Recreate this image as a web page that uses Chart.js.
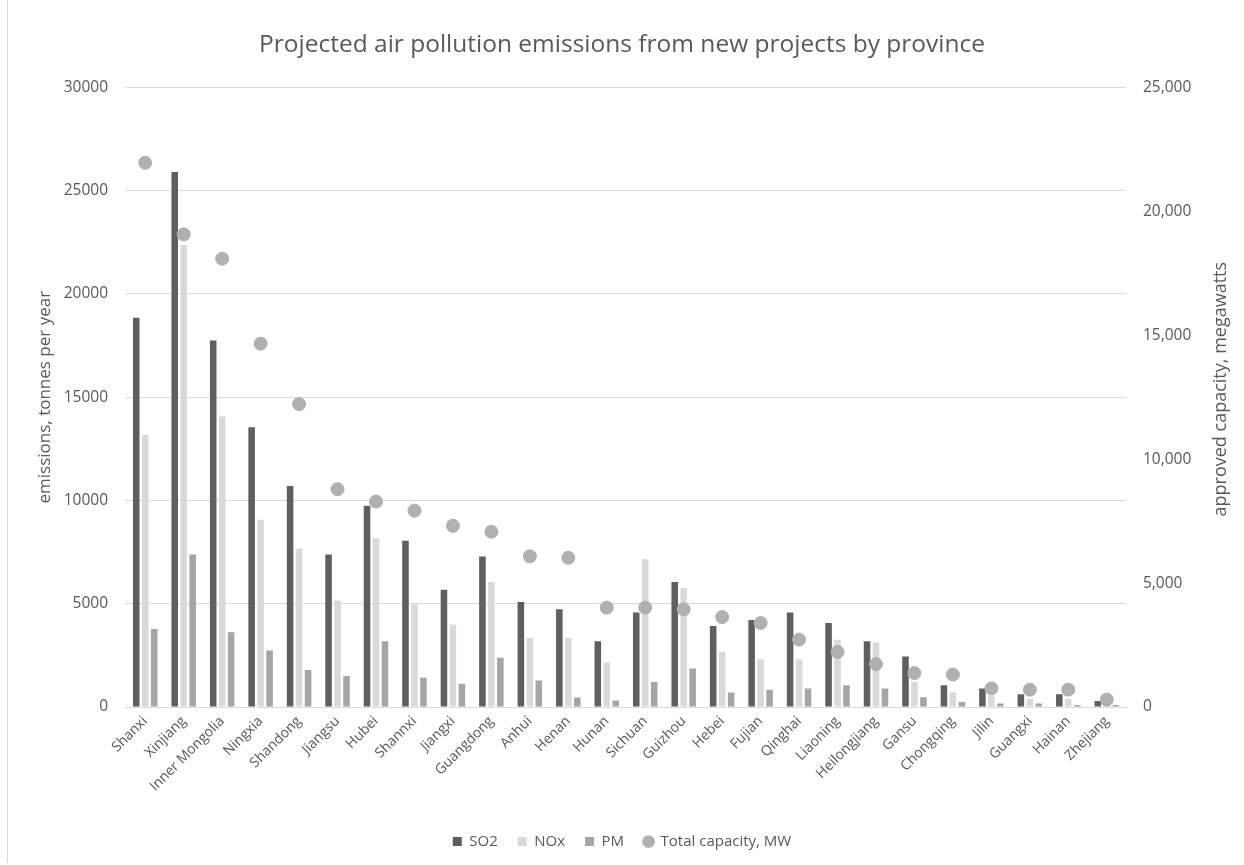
<!DOCTYPE html>
<html>
<head>
<meta charset="utf-8">
<script src="https://cdn.jsdelivr.net/npm/chart.js@4"></script>
<style>
  html, body { margin: 0; padding: 0; background: #fff; }
  #wrap { position: relative; width: 1244px; height: 865px; }
  #frame { position: absolute; left: 7px; top: 0; width: 0; height: 863px; border-left: 1px solid #d9d9d9; }
</style>
</head>
<body>
<div id="wrap">
  <div id="frame"></div>
  <canvas id="grafica" width="1244" height="865"></canvas>
</div>
<script>
var provincias = [
    'Shanxi', 'Xinjiang', 'Inner Mongolia', 'Ningxia', 'Shandong', 'Jiangsu',
    'Hubei', 'Shannxi', 'Jiangxi', 'Guangdong', 'Anhui', 'Henan', 'Hunan',
    'Sichuan', 'Guizhou', 'Hebei', 'Fujian', 'Qinghai', 'Liaoning',
    'Heilongjiang', 'Gansu', 'Chongqing', 'Jilin', 'Guangxi', 'Hainan', 'Zhejiang'
];

// tonnes per year
var so2 = [18850, 25900, 17750, 13550, 10700, 7380, 9750, 8050, 5680, 7290, 5080, 4730, 3180,
           4570, 6050, 3920, 4210, 4570, 4070, 3180, 2450, 1050, 890, 615, 615, 290];
var nox = [13180, 22380, 14070, 9070, 7670, 5160, 8180, 4980, 4000, 6050, 3340, 3340, 2150,
           7150, 5760, 2660, 2310, 2310, 3260, 3120, 1210, 700, 560, 400, 400, 150];
var pm = [3780, 7380, 3620, 2740, 1790, 1500, 3180, 1420, 1130, 2390, 1280, 460, 320,
          1210, 1860, 700, 840, 900, 1050, 900, 470, 240, 165, 165, 97, 97];

// megawatts
var capacidad = [21960, 19070, 18090, 14660, 12220, 8790, 8290, 7920, 7310, 7070, 6080, 6020, 4010,
                 4010, 3940, 3630, 3390, 2720, 2220, 1730, 1370, 1310, 750, 700, 700, 300];

var emisionesTicks = [0, 5000, 10000, 15000, 20000, 25000, 30000];
var capacidadTicks = [0, 5000, 10000, 15000, 20000, 25000];

var colorSO2 = '#5f5f5f';
var colorNOx = '#d9d9d9';
var colorPM = '#a5a5a5';
var colorPunto = '#b0b0b0';
var colorTexto = '#595959';
var colorRejilla = '#d9d9d9';
var fuente = "'Open Sans', 'Liberation Sans', sans-serif";

var barra = { categoryPercentage: 0.7, barPercentage: 0.73, yAxisID: 'y' };

// right axis title reads bottom to top, like the left one
var tituloDerecho = {
    id: 'tituloDerecho',
    afterDraw: function (chart) {
        var ctx = chart.ctx;
        var area = chart.chartArea;
        ctx.save();
        ctx.translate(1221, (area.top + area.bottom) / 2 - 8);
        ctx.rotate(-Math.PI / 2);
        ctx.fillStyle = colorTexto;
        ctx.font = "18px " + fuente;
        ctx.textAlign = 'center';
        ctx.textBaseline = 'middle';
        ctx.fillText('approved capacity, megawatts', 0, 0);
        ctx.restore();
    }
};

var configuracion = {
    type: 'bar',
    data: {
        labels: provincias,
        datasets: [
            {
                type: 'line',
                label: 'Total capacity, MW',
                data: capacidad,
                yAxisID: 'y2',
                showLine: false,
                pointStyle: 'circle',
                pointRadius: 6.5,
                pointHoverRadius: 6.5,
                pointBackgroundColor: colorPunto,
                pointBorderColor: colorPunto,
                backgroundColor: colorPunto,
                borderColor: colorPunto,
                order: 0
            },
            Object.assign({ label: 'SO2', data: so2, backgroundColor: colorSO2, order: 1 }, barra),
            Object.assign({ label: 'NOx', data: nox, backgroundColor: colorNOx, order: 1 }, barra),
            Object.assign({ label: 'PM', data: pm, backgroundColor: colorPM, order: 1 }, barra)
        ]
    },
    options: {
        responsive: false,
        animation: false,
        layout: { padding: { left: 0, right: 0, top: 0, bottom: 6 } },
        plugins: {
            title: {
                display: true,
                text: 'Projected air pollution emissions from new projects by province',
                color: colorTexto,
                font: { family: fuente, size: 24.5, weight: 'normal' },
                padding: { top: 30, bottom: 28 }
            },
            legend: {
                position: 'bottom',
                labels: {
                    color: colorTexto,
                    font: { family: fuente, size: 15 },
                    boxWidth: 9,
                    boxHeight: 9,
                    padding: 20,
                    usePointStyle: true,
                    sort: function (a, b) {
                        // bars first, capacity last
                        return (a.datasetIndex === 0 ? 9 : a.datasetIndex) - (b.datasetIndex === 0 ? 9 : b.datasetIndex);
                    },
                    generateLabels: function (chart) {
                        var items = Chart.defaults.plugins.legend.labels.generateLabels(chart);
                        items.forEach(function (it) {
                            it.pointStyle = it.datasetIndex === 0 ? 'circle' : 'rect';
                            it.lineWidth = 0;
                        });
                        return items;
                    }
                }
            },
            tooltip: { enabled: false }
        },
        scales: {
            x: {
                grid: { display: false, drawTicks: false },
                border: { display: true, color: colorRejilla },
                ticks: {
                    color: colorTexto,
                    font: { family: fuente, size: 14 },
                    minRotation: 45,
                    maxRotation: 45,
                    autoSkip: false,
                    padding: 6
                },
                afterFit: function (s) { s.height = 107; }
            },
            y: {
                position: 'left',
                min: 0,
                max: 30000,
                afterBuildTicks: function (s) { s.ticks = emisionesTicks.map(function (v) { return { value: v }; }); },
                grid: { color: colorRejilla, drawTicks: false },
                border: { display: false },
                ticks: {
                    color: colorTexto,
                    font: { family: fuente, size: 15.5 },
                    padding: 18,
                    callback: function (v) { return String(v); }
                },
                title: {
                    display: true,
                    text: 'emissions, tonnes per year',
                    color: colorTexto,
                    font: { family: fuente, size: 17 },
                    padding: { top: 35, bottom: 0 }
                },
                afterFit: function (s) { s.width = 126; }
            },
            y2: {
                position: 'right',
                min: 0,
                max: 25000,
                afterBuildTicks: function (s) { s.ticks = capacidadTicks.map(function (v) { return { value: v }; }); },
                grid: { display: false, drawTicks: false },
                border: { display: false },
                ticks: {
                    color: colorTexto,
                    font: { family: fuente, size: 15.5 },
                    padding: 17,
                    callback: function (v) { return v.toLocaleString('en-US'); }
                },
                afterFit: function (s) { s.width = 118; }
            }
        }
    },
    plugins: [tituloDerecho]
};

var graficaJavascript = new Chart(document.getElementById('grafica'), configuracion);
</script>
</body>
</html>
